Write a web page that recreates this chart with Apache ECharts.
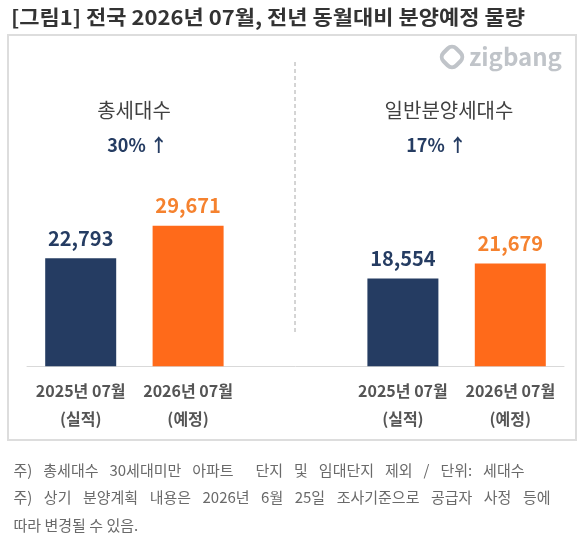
<!DOCTYPE html>
<html>
<head>
<meta charset="utf-8">
<script src="https://cdn.jsdelivr.net/npm/echarts@6/dist/echarts.min.js"></script>
<style>
html,body{margin:0;padding:0;background:#fff;}
#chart{width:583px;height:537px;}
</style>
</head>
<body>
<div id="chart"></div>
<script>
const titleText = '[그림1] 전국 2026년 07월, 전년 동월대비 분양예정 물량';
const groups = ['총세대수', '일반분양세대수'];
const periods = ['2025년 07월', '2026년 07월'];
const statuses = ['(실적)', '(예정)'];
const prevValues = [22793, 18554];
const currValues = [29671, 21679];
const notes = [
  '주) 총세대수 30세대미만 아파트  단지 및 임대단지 제외 / 단위: 세대수',
  '주) 상기 분양계획 내용은 2026년 6월 25일 조사기준으로 공급자 사정 등에',
  '따라 변경될 수 있음.'
];
const noteJustifyWidths = [511, 537, 0]; // 0 = not justified (last line)

const FONT = "'Noto Sans CJK KR', 'Noto Sans', sans-serif";
const NAVY = '#253c62';
const ORANGE = '#ff6a1a';
const ORANGE_LABEL = '#f5822f';
const NOTE_FONT = '15px ' + FONT;
const NOTE_COLOR = '#6a6a6a';

// 5 slots: group0 (prev, curr), gap, group1 (prev, curr)
const categories = [];
const barData = [];
groups.forEach((g, gi) => {
  if (gi > 0) { categories.push('gap'); barData.push('-'); }
  categories.push(g + '|0');
  barData.push({ value: prevValues[gi], itemStyle: { color: NAVY }, label: { color: NAVY } });
  categories.push(g + '|1');
  barData.push({ value: currValues[gi], itemStyle: { color: ORANGE }, label: { color: ORANGE_LABEL } });
});

const pct = groups.map((g, i) => Math.round((currValues[i] / prevValues[i] - 1) * 100));

// justify footnote lines by widening the spaces between words (rich text)
const mctx = document.createElement('canvas').getContext('2d');
mctx.font = NOTE_FONT;
function noteElement(line, i) {
  const target = noteJustifyWidths[i];
  const base = { type: 'text', x: 13.5, y: 470 + i * 27.5 };
  const common = { font: NOTE_FONT, fill: NOTE_COLOR, textVerticalAlign: 'middle', textAlign: 'left' };
  if (!target) return Object.assign(base, { style: Object.assign({ text: line }, common) });
  const words = line.split(' ');
  const wordsW = words.reduce((s, w) => s + mctx.measureText(w).width, 0);
  const sw = Math.max(3, (target - wordsW) / (words.length - 1));
  const rich = { s: { width: sw, font: NOTE_FONT }, w: { font: NOTE_FONT, fill: NOTE_COLOR } };
  const txt = words.map(w => w ? '{w|' + w + '}' : '').join('{s| }');
  return Object.assign(base, { style: Object.assign({ text: txt, rich: rich }, common) });
}

const chart = echarts.init(document.getElementById('chart'), null, { renderer: 'canvas' });

const graphics = [
  { type: 'rect', shape: { x: 8, y: 35, width: 568, height: 405 }, style: { fill: 'none', stroke: '#dddddd', lineWidth: 2 }, z: 0 },
  { type: 'text', x: 11, y: 17, scaleX: 1.1, style: { text: titleText, font: 'bold 20px ' + FONT, fill: '#333333', textVerticalAlign: 'middle', textAlign: 'left' } },
  { type: 'line', shape: { x1: 295, y1: 62, x2: 295, y2: 333 }, style: { stroke: '#aaaaaa', lineWidth: 1, lineDash: [4, 3] } },
  // logo
  { type: 'rect', x: 452, y: 57, rotation: Math.PI / 4, shape: { x: -9, y: -9, width: 18, height: 18, r: 6 }, style: { fill: 'none', stroke: '#c0c4c9', lineWidth: 4 } },
  { type: 'text', x: 469, y: 57, style: { text: 'zigbang', font: 'bold 24px ' + FONT, fill: '#c0c4c9', textVerticalAlign: 'middle', textAlign: 'left' } },
  // group headings
  { type: 'text', x: 134, y: 110, style: { text: groups[0], font: '20px ' + FONT, fill: '#404040', textAlign: 'center', textVerticalAlign: 'middle' } },
  { type: 'text', x: 449, y: 110, style: { text: groups[1], font: '20px ' + FONT, fill: '#404040', textAlign: 'center', textVerticalAlign: 'middle' } },
  { type: 'text', x: 137.5, y: 145, style: { text: pct[0] + '% ↑', font: 'bold 18px ' + FONT, fill: NAVY, textAlign: 'center', textVerticalAlign: 'middle' } },
  { type: 'text', x: 436.5, y: 145, style: { text: pct[1] + '% ↑', font: 'bold 18px ' + FONT, fill: NAVY, textAlign: 'center', textVerticalAlign: 'middle' } }
];
notes.forEach((n, i) => graphics.push(noteElement(n, i)));

chart.setOption({
  animation: false,
  backgroundColor: '#ffffff',
  grid: { left: 27, right: 19, top: 176.8, bottom: 170.7, containLabel: false },
  xAxis: {
    type: 'category',
    data: categories,
    axisLine: { show: true, lineStyle: { color: '#d9d9d9', width: 1 } },
    axisTick: { show: false },
    axisLabel: {
      interval: 0,
      margin: 11,
      lineHeight: 28,
      fontFamily: FONT,
      fontSize: 16,
      fontWeight: 'bold',
      color: '#555555',
      formatter: function (v) {
        if (v === 'gap') return '';
        const idx = Number(v.split('|')[1]);
        return periods[idx] + '\n' + statuses[idx];
      }
    }
  },
  yAxis: {
    type: 'value',
    min: 0,
    max: 40000,
    show: false,
    splitLine: { show: false }
  },
  series: [{
    type: 'bar',
    data: barData,
    barWidth: 71,
    label: {
      show: true,
      position: 'top',
      distance: 10,
      fontFamily: FONT,
      fontSize: 20,
      fontWeight: 'bold',
      formatter: function (p) { return p.value.toLocaleString('en-US'); }
    }
  }],
  graphic: graphics
});
</script>
</body>
</html>
